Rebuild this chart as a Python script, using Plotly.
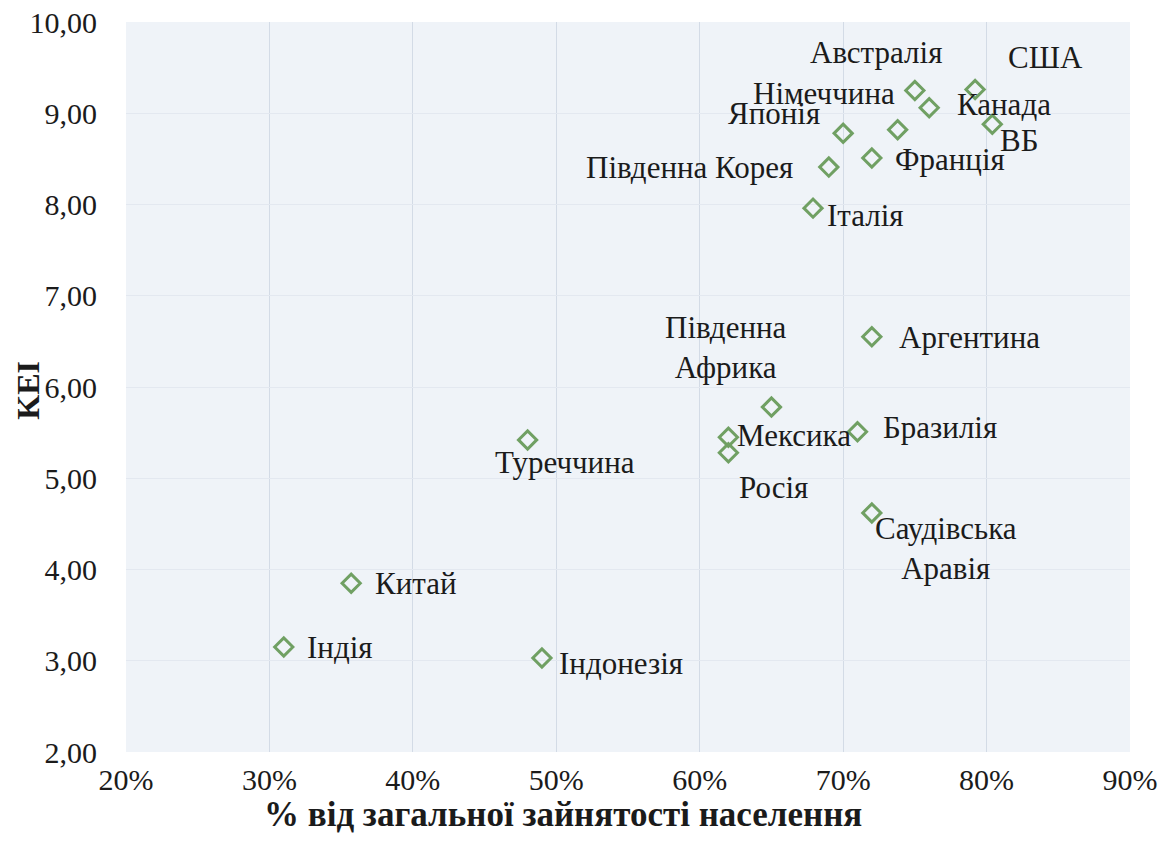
import plotly.graph_objects as go

# ---- data ----
countries = ["США", "Австралія", "Німеччина", "Канада", "ВБ", "Японія", "Франція",
             "Південна Корея", "Італія", "Південна<br>Африка", "Аргентина", "Мексика",
             "Росія", "Бразилія", "Туреччина", "Саудівська<br>Аравія", "Китай", "Індія",
             "Індонезія"]
employment_share = [0.792, 0.750, 0.738, 0.760, 0.804, 0.700, 0.720,
                    0.690, 0.679, 0.650, 0.720, 0.620,
                    0.620, 0.710, 0.480, 0.720, 0.357, 0.310,
                    0.490]
kei = [9.26, 9.25, 8.82, 9.06, 8.88, 8.78, 8.51,
       8.41, 7.96, 5.78, 6.55, 5.45,
       5.28, 5.51, 5.42, 4.62, 3.85, 3.15,
       3.03]

y_ticks = [2, 3, 4, 5, 6, 7, 8, 9, 10]
y_tick_text = ["2,00", "3,00", "4,00", "5,00", "6,00", "7,00", "8,00", "9,00", "10,00"]
x_ticks = [0.2, 0.3, 0.4, 0.5, 0.6, 0.7, 0.8, 0.9]
x_tick_text = ["20%", "30%", "40%", "50%", "60%", "70%", "80%", "90%"]

# label placement (pixel offsets from the marker) -- styling only
label_dx = [70, -39, -74, 75, 27, -69, 78, -139, 52, -45, 98, 66, 45, 83, 37, 74, 65, 56, 79]
label_dy = [32, 38, 36, 3, -16, 20, -2, 0, -7, 60, -1, 2, -35, 4, -23, -36, 0, 0, -5]

FONT = '"Liberation Serif", "Times New Roman", Times, serif'
TXT = "#1b1b1b"

fig = go.Figure()
fig.add_trace(go.Scatter(
    x=employment_share, y=kei, mode="markers",
    marker=dict(symbol="diamond-open", size=14, color="#70a063",
                line=dict(width=3, color="#70a063")),
    text=countries, hoverinfo="text", showlegend=False,
))

for name, xv, yv, dx, dy in zip(countries, employment_share, kei, label_dx, label_dy):
    fig.add_annotation(x=xv, y=yv, text=name, showarrow=False,
                       xshift=dx, yshift=dy, align="center",
                       xanchor="center", yanchor="middle",
                       font=dict(family=FONT, size=31, color=TXT))

fig.add_annotation(xref="paper", yref="paper", x=0.435, y=-0.086,
                   xanchor="center", yanchor="middle",
                   text="<b>% від загальної зайнятості населення</b>", showarrow=False,
                   font=dict(family=FONT, size=35, color=TXT))
fig.add_annotation(xref="paper", yref="paper", x=-0.0976, y=0.495,
                   xanchor="center", yanchor="middle",
                   text="<b>KEI</b>", showarrow=False, textangle=-90,
                   font=dict(family=FONT, size=32, color=TXT))

fig.update_layout(
    width=1158, height=833,
    margin=dict(l=118, r=36, t=14, b=89, autoexpand=False),
    paper_bgcolor="white", plot_bgcolor="#eff3f8",
    font=dict(family=FONT, size=30, color=TXT),
)
fig.update_xaxes(range=[0.2, 0.9], tickvals=x_ticks, ticktext=x_tick_text,
                 showgrid=True, gridcolor="#d3dbe6", gridwidth=1, zeroline=False,
                 ticks="outside", ticklen=1, tickcolor="rgba(0,0,0,0)",
                 ticklabeloverflow="allow", automargin=False,
                 tickfont=dict(family=FONT, size=30, color=TXT), showline=False)
fig.update_yaxes(range=[2, 10], tickvals=y_ticks, ticktext=y_tick_text,
                 showgrid=True, gridcolor="#e3e8f0", gridwidth=1, zeroline=False,
                 ticks="outside", ticklen=22, tickcolor="rgba(0,0,0,0)",
                 ticklabeloverflow="allow", automargin=False,
                 tickfont=dict(family=FONT, size=30, color=TXT), showline=False)

fig.write_html("out.html")
